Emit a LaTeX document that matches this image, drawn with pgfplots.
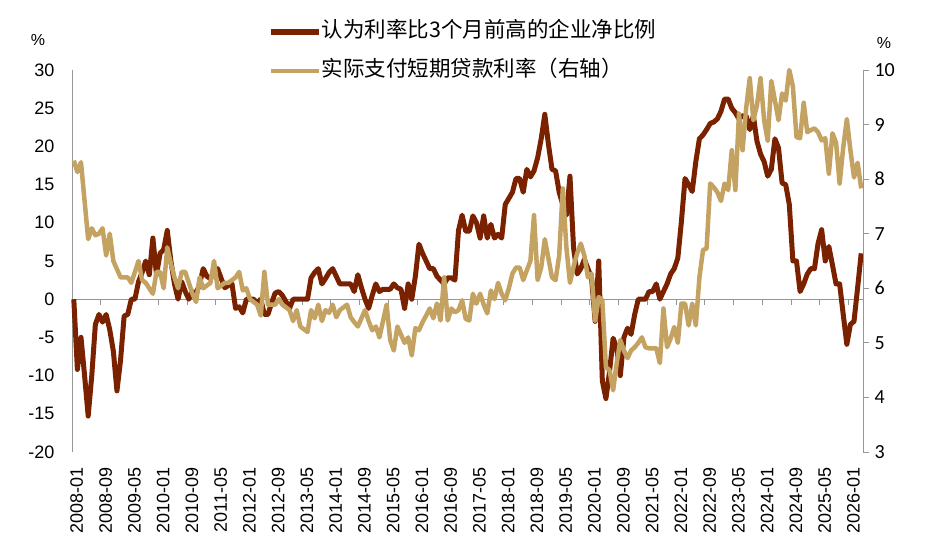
\documentclass[border=0pt]{standalone}
\usepackage{fontspec}
\setmainfont{Liberation Sans}
\newfontfamily\cjk{Noto Sans CJK SC}
\newfontfamily\calib{Carlito}
\usepackage{pgfplots}
\pgfplotsset{compat=1.18}

\definecolor{rust}{RGB}{122,34,0}
\definecolor{sand}{RGB}{196,162,98}
\definecolor{axgray}{RGB}{150,150,150}

% month index 0 = 2008-01
\pgfplotstableread{
i v
0 0
1 -9.2
2 -5
3 -10
4 -15.3
5 -10
6 -3.3
7 -2
8 -3
9 -2
10 -4
11 -6.8
12 -12
13 -8
14 -2.2
15 -2
16 0
17 0
18 2.3
19 3.5
20 5
21 3.2
22 8
23 3.2
24 6
25 6.5
26 9
27 5
28 2
29 0
30 2.3
31 1
32 0
33 1
34 0.7
35 2
36 4
37 3
38 2.7
39 3.5
40 4
41 2.7
42 1.5
43 1.8
44 2
45 -1.2
46 -1
47 -1.8
48 0
49 0
50 0
51 -0.5
52 0
53 -2
54 -2
55 -0.5
56 0.8
57 1
58 0.5
59 -0.3
60 -1.2
61 0
62 0
63 0
64 0
65 0
66 2.8
67 3.5
68 4
69 2
70 2.7
71 3.5
72 4
73 3
74 2
75 2
76 2
77 2
78 1
79 3.2
80 1.5
81 0
82 -1.2
83 0.5
84 2
85 1
86 1.3
87 1.3
88 1.3
89 2
90 1.5
91 1.3
92 -1.2
93 2
94 0
95 3
96 7.2
97 6
98 5
99 4
100 4
101 3
102 2.5
103 2
104 2.8
105 2.8
106 2.5
107 9
108 11
109 8.9
110 8.9
111 10.9
112 10
113 8
114 10.9
115 8
116 9.8
117 8
118 8.5
119 8
120 12.4
121 13.2
122 14
123 15.8
124 15.8
125 14
126 17
127 16
128 16.8
129 18.5
130 21
131 24.2
132 20.3
133 17
134 16.8
135 14
136 12.4
137 11
138 16.1
139 6.7
140 3.3
141 4
142 5.2
143 4
144 2.8
145 -2.9
146 5
147 -10.7
148 -13
149 -9.5
150 -5.1
151 -6.4
152 -10
153 -5
154 -3.8
155 -4.6
156 -2
157 0
158 0
159 0
160 1
161 1
162 2
163 0
164 1
165 2
166 3.3
167 4
168 5.4
169 10.2
170 15.8
171 15
172 14.1
173 18
174 21
175 21.5
176 22.2
177 23
178 23.2
179 23.6
180 24.6
181 26.2
182 26.2
183 25
184 24.4
185 23.6
186 24
187 24
188 22.2
189 24
190 20.7
191 19
192 18
193 16.1
194 17
195 21
196 19.8
197 15.2
198 15
199 12.4
200 5
201 5
202 1
203 2
204 3.3
205 4
206 4
207 7.3
208 9.1
209 5
210 6.9
211 4.5
212 2
213 2
214 -2
215 -5.9
216 -3.3
217 -2.9
218 1.5
219 6
}\higherrates

\pgfplotstableread{
i v
0 8.34
1 8.13
2 8.31
3 7.6
4 6.9
5 7.1
6 6.97
7 7.0
8 7.1
9 6.6
10 7.0
11 6.5
12 6.35
13 6.2
14 6.2
15 6.2
16 6.1
17 6.3
18 6.5
19 6.15
20 6.1
21 6.0
22 5.9
23 6.3
24 6.3
25 6.0
26 6.75
27 6.45
28 6.2
29 6.0
30 6.3
31 6.3
32 6.1
33 5.9
34 5.75
35 6.2
36 6.0
37 6.05
38 6.1
39 6.5
40 6.0
41 6.05
42 6.1
43 6.1
44 6.15
45 6.2
46 6.3
47 5.96
48 6.0
49 5.8
50 5.75
51 5.7
52 5.5
53 6.3
54 5.7
55 5.7
56 5.7
57 5.8
58 5.7
59 5.65
60 5.6
61 5.4
62 5.6
63 5.3
64 5.25
65 5.2
66 5.6
67 5.45
68 5.7
69 5.4
70 5.6
71 5.55
72 5.7
73 5.47
74 5.6
75 5.65
76 5.7
77 5.47
78 5.38
79 5.3
80 5.45
81 5.6
82 5.4
83 5.23
84 5.3
85 5.1
86 5.4
87 5.7
88 5.05
89 4.86
90 5.3
91 5.15
92 5.0
93 5.1
94 4.77
95 5.27
96 5.23
97 5.38
98 5.5
99 5.63
100 5.45
101 5.72
102 5.41
103 6.2
104 5.41
105 5.63
106 5.56
107 5.6
108 5.78
109 5.44
110 5.41
111 5.9
112 5.72
113 5.9
114 5.7
115 5.54
116 5.96
117 5.8
118 6.1
119 5.9
120 5.78
121 6.0
122 6.27
123 6.38
124 6.38
125 6.15
126 6.33
127 6.5
128 7.34
129 6.15
130 6.38
131 6.9
132 6.55
133 6.2
134 6.15
135 6.6
136 7.83
137 6.75
138 6.1
139 6.4
140 6.64
141 6.82
142 6.6
143 6.2
144 6.27
145 5.4
146 5.84
147 5.78
148 4.55
149 4.5
150 4.13
151 4.63
152 5.05
153 4.86
154 4.72
155 4.86
156 4.92
157 5.0
158 5.1
159 4.92
160 4.9
161 4.9
162 4.9
163 4.63
164 5.63
165 4.92
166 5.08
167 5.29
168 5.0
169 5.72
170 5.72
171 5.32
172 5.72
173 5.32
174 6.2
175 6.7
176 6.73
177 7.92
178 7.85
179 7.76
180 7.6
181 7.92
182 7.8
183 8.53
184 7.8
185 9.2
186 8.53
187 9.3
188 9.85
189 9.08
190 9.35
191 9.85
192 9.08
193 8.7
194 9.8
195 9.44
196 9.08
197 9.57
198 9.44
199 10.0
200 9.7
201 8.77
202 8.75
203 9.4
204 8.86
205 8.9
206 8.93
207 8.86
208 8.71
209 8.75
210 8.1
211 8.84
212 8.67
213 7.92
214 8.58
215 9.1
216 8.53
217 8.03
218 8.3
219 7.83
}\loanrate

\begin{document}
\begin{tikzpicture}
\path[use as bounding box] (0,0) rectangle (928bp,552bp);

% left axis: net share of firms reporting higher rates
\begin{axis}[
  at={(72bp,100bp)}, anchor=south west,
  scale only axis, width=791bp, height=382bp,
  xmin=-0.5, xmax=219.5, ymin=-20, ymax=30,
  clip=false,
  axis x line*=bottom, axis y line*=left,
  x axis line style={draw=none},
  y axis line style={axgray, line width=0.9bp, -},
  xtick={0,8,...,216},
  xticklabels={2008-01,2008-09,2009-05,2010-01,2010-09,2011-05,2012-01,2012-09,2013-05,2014-01,2014-09,2015-05,2016-01,2016-09,2017-05,2018-01,2018-09,2019-05,2020-01,2020-09,2021-05,2022-01,2022-09,2023-05,2024-01,2024-09,2025-05,2026-01},
  xticklabel style={xshift=3bp, yshift=-12bp, rotate=90, anchor=east, font=\fontsize{18bp}{20bp}\selectfont},
  xtick style={draw=none},
  ytick={-20,-15,...,30},
  ytick style={draw=none},
  yticklabel style={xshift=-14bp, font=\fontsize{18bp}{20bp}\selectfont},
  /pgf/number format/assume math mode=true,
]
\draw[axgray, line width=0.9bp] (axis cs:-0.5,0) -- (axis cs:219.5,0);
\pgfplotsinvokeforeach{7.5,15.5,...,215.5}{
  \draw[axgray, line width=0.9bp] (axis cs:#1,0) -- (axis cs:#1,-0.8);
}
\addplot[rust, line width=5bp, line join=round] table[x=i, y=v] {\higherrates};
\end{axis}

% right axis: rate paid on short-term loans
\begin{axis}[
  at={(72bp,100bp)}, anchor=south west,
  scale only axis, width=791bp, height=382bp,
  xmin=-0.5, xmax=219.5, ymin=3, ymax=10,
  clip=false,
  axis x line=none, axis y line*=right,
  y axis line style={axgray, line width=0.9bp, -},
  ytick={3,4,...,10},
  ytick style={axgray, line width=0.9bp},
  tick align=outside, major tick length=6bp,
  yticklabel style={xshift=2bp, font=\calib\fontsize{20bp}{22bp}\selectfont},
  /pgf/number format/assume math mode=true,
  legend style={at={(0.2478,1.049)}, anchor=west, draw=none, fill=none,
    inner sep=0bp, row sep=19bp,
    font=\cjk\fontsize{21.5bp}{23bp}\selectfont,
    nodes={inner sep=0bp, text height=16bp, text depth=4bp},
    /tikz/every even column/.style={column sep=4bp}},
  legend cell align=left,
  legend image code/.code={\draw[#1] (0bp,0bp) -- (48bp,0bp);},
]
\addlegendimage{rust, line width=5.5bp}
\addlegendentry{认为利率比3个月前高的企业净比例}
\addplot[sand, line width=4.5bp, line join=round] table[x=i, y=v] {\loanrate};
\addlegendentry{实际支付短期贷款利率（右轴）}
\end{axis}

\node[font=\fontsize{16bp}{18bp}\selectfont] at (38bp,512bp) {\%};
\node[font=\fontsize{16bp}{18bp}\selectfont] at (884bp,509bp) {\%};
\end{tikzpicture}
\end{document}
